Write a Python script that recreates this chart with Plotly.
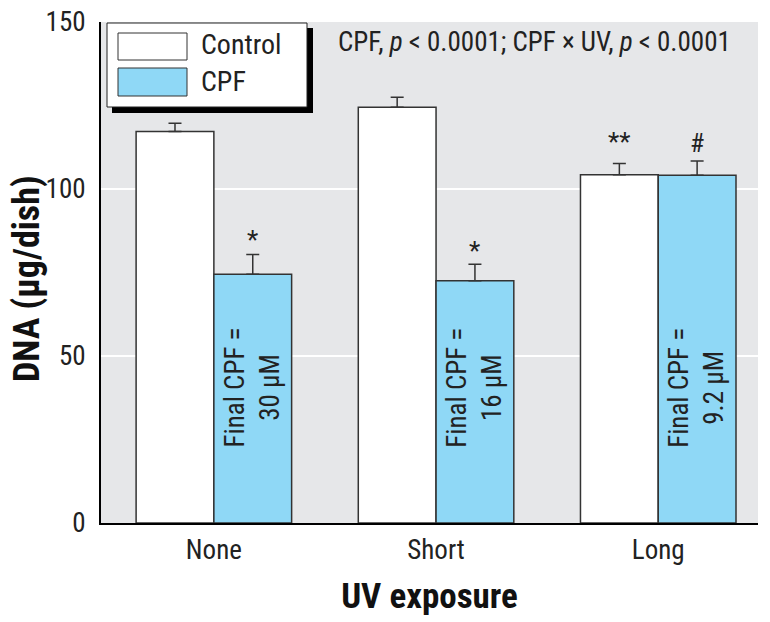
import plotly.graph_objects as go

# ---- data ----
categories = ["None", "Short", "Long"]
control_values = [117.2, 124.5, 104.3]
control_errors = [2.5, 3.0, 3.3]
cpf_values = [74.5, 72.5, 104.1]
cpf_errors = [5.9, 5.0, 4.3]
control_marks = ["", "", "**"]
cpf_marks = ["*", "*", "#"]
final_cpf_labels = ["Final CPF =<br>30 µM", "Final CPF =<br>16 µM", "Final CPF =<br>9.2 µM"]
y_ticks = [0, 50, 100, 150]
stats_text = "CPF, <i>p</i> < 0.0001; CPF × UV, <i>p</i> < 0.0001"
x_title = "UV exposure"
y_title = "DNA (µg/dish)"

# ---- style ----
FONT = "Liberation Sans Narrow, Arial Narrow, Roboto Condensed, DejaVu Sans Condensed, sans-serif"
BAR_W = 0.35
BG = "#e6e7e9"
BLUE = "#8fd8f6"
EDGE = "#333333"
W, H = 770, 622
L, R, T, B = 101, 12, 22, 99
PW, PH = W - L - R, H - T - B


def px_x(x):
    return (x - L) / PW


def px_y(y):
    return (H - B - y) / PH


fig = go.Figure()
fig.add_trace(go.Bar(
    x=categories, y=control_values, name="Control",
    width=BAR_W, offset=-BAR_W,
    marker=dict(color="white", line=dict(color=EDGE, width=1.5)),
    error_y=dict(type="data", array=control_errors, arrayminus=[0] * 3, symmetric=False,
                 color=EDGE, thickness=1.5, width=6.5),
    showlegend=False,
))
fig.add_trace(go.Bar(
    x=categories, y=cpf_values, name="CPF",
    width=BAR_W, offset=0,
    marker=dict(color=BLUE, line=dict(color=EDGE, width=1.5)),
    error_y=dict(type="data", array=cpf_errors, arrayminus=[0] * 3, symmetric=False,
                 color=EDGE, thickness=1.5, width=6.5),
    showlegend=False,
))

ctrl_shift = [0, 0, 5]
cpf_shift = [-3, -4, 1]
annotations = []
for i, cat in enumerate(categories):
    if control_marks[i]:
        annotations.append(dict(x=i - BAR_W / 2, y=control_values[i] + control_errors[i],
                                text=control_marks[i], showarrow=False, yanchor="bottom",
                                yshift=ctrl_shift[i], font=dict(family=FONT, size=26, color="#222")))
    if cpf_marks[i]:
        annotations.append(dict(x=i + BAR_W / 2, y=cpf_values[i] + cpf_errors[i],
                                text=cpf_marks[i], showarrow=False, yanchor="bottom",
                                yshift=cpf_shift[i], font=dict(family=FONT, size=26, color="#222")))
    annotations.append(dict(x=i + BAR_W / 2, y=40.5, text=final_cpf_labels[i], showarrow=False,
                            textangle=-90, font=dict(family=FONT, size=27, color="#222"),
                            align="center"))

annotations.append(dict(xref="paper", yref="paper", x=px_x(336), y=px_y(42), text=stats_text,
                        showarrow=False, xanchor="left", yanchor="middle",
                        font=dict(family=FONT, size=27, color="#222")))

# y-axis title placed precisely
annotations.append(dict(xref="paper", yref="paper", x=px_x(27), y=px_y(279),
                        text="<b>" + y_title + "</b>", showarrow=False, textangle=-90,
                        xanchor="center", yanchor="middle",
                        font=dict(family=FONT, size=36, color="#111")))

shapes = [
    dict(type="rect", xref="paper", yref="paper", x0=px_x(112), x1=px_x(313), y0=px_y(113), y1=px_y(28),
         fillcolor="black", line=dict(width=0), layer="above"),
    dict(type="rect", xref="paper", yref="paper", x0=px_x(107), x1=px_x(307), y0=px_y(107), y1=px_y(23),
         fillcolor="white", line=dict(color="#222", width=1), layer="above"),
    dict(type="rect", xref="paper", yref="paper", x0=px_x(118), x1=px_x(187), y0=px_y(60), y1=px_y(33),
         fillcolor="white", line=dict(color=EDGE, width=1), layer="above"),
    dict(type="rect", xref="paper", yref="paper", x0=px_x(118), x1=px_x(187), y0=px_y(96), y1=px_y(68),
         fillcolor=BLUE, line=dict(color=EDGE, width=1), layer="above"),
]
annotations.append(dict(xref="paper", yref="paper", x=px_x(199), y=px_y(44), text="Control",
                        showarrow=False, xanchor="left", yanchor="middle",
                        font=dict(family=FONT, size=28, color="#222")))
annotations.append(dict(xref="paper", yref="paper", x=px_x(199), y=px_y(81), text="CPF",
                        showarrow=False, xanchor="left", yanchor="middle",
                        font=dict(family=FONT, size=28, color="#222")))

fig.update_layout(
    width=W, height=H,
    margin=dict(l=L, r=R, t=T, b=B),
    paper_bgcolor="white", plot_bgcolor=BG,
    barmode="group", bargap=0.3, bargroupgap=0,
    font=dict(family=FONT, size=26, color="#222"),
    annotations=annotations, shapes=shapes,
    xaxis=dict(
        range=[-0.508, 2.449], showgrid=False, zeroline=False,
        showline=True, linecolor="black", linewidth=2,
        ticks="", ticklabelstandoff=2,
        tickfont=dict(family=FONT, size=27, color="#222"),
        title=dict(text="<b>" + x_title + "</b>", font=dict(family=FONT, size=35, color="#111"), standoff=18),
        automargin=False,
    ),
    yaxis=dict(
        range=[0, 150], tickvals=y_ticks, showgrid=True, gridcolor="white", gridwidth=2,
        zeroline=False, showline=True, linecolor="black", linewidth=2,
        ticks="", ticklabelstandoff=8, ticklabeloverflow="allow",
        tickfont=dict(family=FONT, size=27, color="#222"),
        automargin=False,
    ),
)

fig.write_html(
    "out.html",
    config={"displayModeBar": False},
    post_script="document.body.style.margin='0px'; document.body.style.overflow='hidden';",
)
